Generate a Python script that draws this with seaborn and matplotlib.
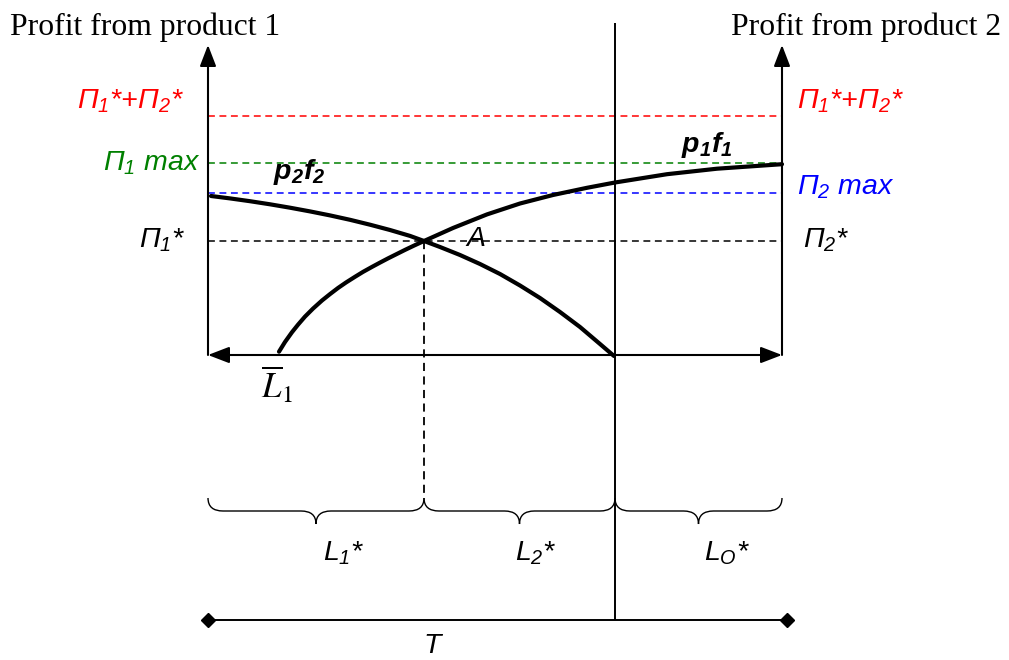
import numpy as np
import matplotlib
matplotlib.use('Agg')
import matplotlib.pyplot as plt
from matplotlib.path import Path
from matplotlib.patches import PathPatch
import seaborn as sns

sns.set_style('white')
plt.rcParams['font.family'] = ['Liberation Sans', 'DejaVu Sans']
plt.rcParams['text.color'] = 'black'
# all sans maths italic, like the original labels
plt.rcParams['mathtext.fontset'] = 'custom'
plt.rcParams['mathtext.rm'] = 'Liberation Sans:italic'
plt.rcParams['mathtext.it'] = 'Liberation Sans:italic'
plt.rcParams['mathtext.bf'] = 'Liberation Sans:bold:italic'

# diagram coordinates (pixels, y down)
left_x = 208
right_x = 782
base_y = 355
top_y = 45
split_x = 615          # end of p2f2 / start of L0
eq_x = 424             # point A
level_sum = 116        # Pi1* + Pi2*
level_p1max = 163
level_p2max = 193
level_star = 241
t_y = 620
t_right = 787
brace_top = 498
brace_tip = 524

# curves
p2f2_x = [211, 230, 250, 270, 290, 310, 330, 350, 370, 390, 410, 424,
          440, 460, 480, 500, 520, 540, 560, 580, 600, 614]
p2f2_y = [196, 198.4, 201.2, 204.3, 207.7, 211.4, 215.4, 219.8, 224.7, 230, 235.9, 241,
          247, 255, 264, 274, 285.5, 298, 312, 327, 344, 356]
p1f1_x = [279, 285, 292, 298, 305, 313, 322, 330, 338, 346, 355, 363, 372, 380, 388,
          396, 405, 414, 424, 453, 487, 520, 553, 587, 615, 667, 717, 782]
p1f1_y = [351.7, 342, 332.2, 324.7, 316.6, 308.6, 300.5, 294.1, 288, 282.5, 276.8, 271.9,
          266.9, 262.6, 258.4, 254.4, 249.9, 245.6, 241, 228, 214.4, 203.5, 195, 187.8,
          182.5, 174.2, 168.7, 164.2]

brace_spans = [(left_x, eq_x), (eq_x, split_x), (split_x, right_x)]
brace_labels = [r'$L_1$*', r'$L_2$*', r'$L_O$*']
brace_label_x = [344, 536, 727]

fig = plt.figure(figsize=(10.09, 6.6), dpi=100)
ax = fig.add_axes([0, 0, 1, 1])
ax.set_xlim(0, 1009)
ax.set_ylim(660, 0)
ax.axis('off')

dash = (0, (4.5, 3))
ax.hlines(level_sum, left_x, right_x, colors='#ff0000', lw=1.1, linestyles=dash)
ax.hlines(level_p1max, left_x, right_x, colors='#008000', lw=1.1, linestyles=dash)
ax.hlines(level_p2max, left_x, right_x, colors='#0000ff', lw=1.1, linestyles=dash)
ax.hlines(level_star, left_x, right_x, colors='black', lw=1.1, linestyles=dash)
ax.vlines(eq_x, level_star, brace_top, colors='black', lw=1.3, linestyles=dash)

# axes with arrows
arr = dict(arrowstyle='-|>,head_length=0.65,head_width=0.25', color='black',
           lw=1.5, mutation_scale=20, shrinkA=0, shrinkB=0)
ax.annotate('', xy=(left_x, top_y), xytext=(left_x, base_y), arrowprops=arr)
ax.annotate('', xy=(right_x, top_y), xytext=(right_x, base_y), arrowprops=arr)
arr2 = dict(arr, arrowstyle='<|-|>,head_length=0.65,head_width=0.25')
ax.annotate('', xy=(right_x, base_y), xytext=(left_x, base_y), arrowprops=arr2)

ax.vlines(split_x, 23, t_y, colors='black', lw=1.4)

sns.lineplot(x=p2f2_x, y=p2f2_y, ax=ax, color='black', lw=3, sort=False, estimator=None)
sns.lineplot(x=p1f1_x, y=p1f1_y, ax=ax, color='black', lw=3, sort=False, estimator=None)

# braces
for (x0, x1) in brace_spans:
    mid = (x0 + x1) / 2
    ym = (brace_top + brace_tip) / 2
    verts = [(x0, brace_top), (x0, ym), (x0 + 15, ym),
             (mid - 15, ym), (mid, ym), (mid, brace_tip),
             (mid, ym), (mid + 15, ym),
             (x1 - 15, ym), (x1, ym), (x1, brace_top)]
    codes = [Path.MOVETO, Path.CURVE3, Path.CURVE3,
             Path.LINETO, Path.CURVE3, Path.CURVE3,
             Path.CURVE3, Path.CURVE3,
             Path.LINETO, Path.CURVE3, Path.CURVE3]
    ax.add_patch(PathPatch(Path(verts, codes), fc='none', ec='black', lw=1.0))

# T line
ax.plot([left_x, t_right], [t_y, t_y], color='black', lw=1.4, marker='D', ms=7)

# texts
serif = 'Liberation Serif'
ax.text(10, 35, 'Profit from product 1', family=serif, fontsize=22.8, va='baseline')
ax.text(1001, 35, 'Profit from product 2', family=serif, fontsize=22.8, va='baseline', ha='right')

fs = 20.5
ax.text(184, 101, r'$\Pi_1$*+$\Pi_2$*', color='#ff0000', fontsize=fs, style='italic', ha='right', va='center')
ax.text(797, 101, r'$\Pi_1$*+$\Pi_2$*', color='#ff0000', fontsize=fs, style='italic', ha='left', va='center')
ax.text(200, 163, r'$\Pi_1$ max', color='#008000', fontsize=fs, style='italic', ha='right', va='center')
ax.text(797, 187, r'$\Pi_2$ max', color='#0000ff', fontsize=fs, style='italic', ha='left', va='center')
ax.text(186, 240, r'$\Pi_1$*', fontsize=fs, style='italic', ha='right', va='center')
ax.text(803, 240, r'$\Pi_2$*', fontsize=fs, style='italic', ha='left', va='center')
ax.text(299, 172, r'$\mathbf{p_2f_2}$', fontsize=fs, ha='center', va='center')
ax.text(707, 145, r'$\mathbf{p_1f_1}$', fontsize=fs, ha='center', va='center')
ax.text(476, 239, 'A', fontsize=fs, style='italic', ha='center', va='center')
ax.text(277, 385, r'$\overline{L}_{\mathrm{1}}$', fontsize=25, math_fontfamily='stix', ha='center', va='center')
for lab, x in zip(brace_labels, brace_label_x):
    ax.text(x, 553, lab, fontsize=fs, style='italic', ha='center', va='center')
ax.text(432, 646, 'T', fontsize=fs, style='italic', ha='center', va='center')

fig.savefig('out.png', dpi=100)
